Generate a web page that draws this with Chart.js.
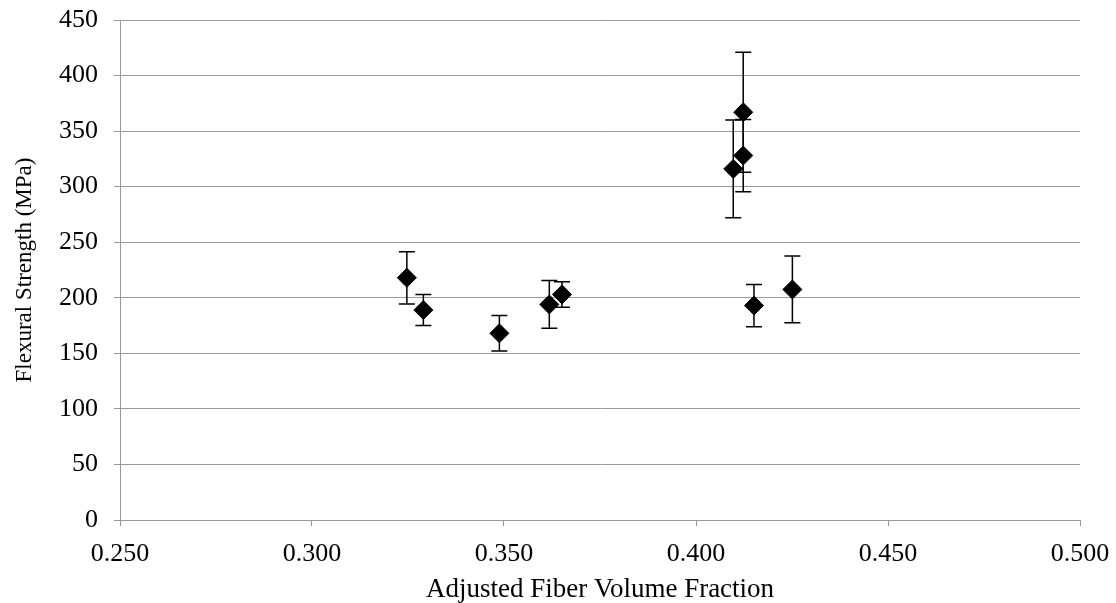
<!DOCTYPE html>
<html>
<head>
<meta charset="utf-8">
<script src="https://cdn.jsdelivr.net/npm/chart.js@4/dist/chart.umd.min.js"></script>
<style>
  html, body { margin: 0; padding: 0; background: #fff; }
  #wrap { width: 1116px; height: 603px; }
</style>
</head>
<body>
<div id="wrap"><canvas id="chart" width="1116" height="603"></canvas></div>
<script>
// fiber volume fraction (x) and flexural strength (y) with +/- error
const fiberFraction = [0.3247, 0.3290, 0.3488, 0.3618, 0.3651, 0.4097, 0.4123, 0.4123, 0.4151, 0.4251];
const strength = [218, 189, 168, 194, 203, 316, 328, 367, 193, 207.5];
const strengthErr = [23.5, 14, 16, 21.5, 11.5, 44, 32.5, 54, 19, 30];

const xTicks = [0.25, 0.30, 0.35, 0.40, 0.45, 0.50];
const yTicks = [0, 50, 100, 150, 200, 250, 300, 350, 400, 450];

const points = fiberFraction.map((x, i) => ({ x: x, y: strength[i] }));

// draws the error bars through the chart scales, under the markers
const errorBars = {
    id: 'errorBars',
    beforeDatasetsDraw(chart) {
        const ctx = chart.ctx;
        const xs = chart.scales.x;
        const ys = chart.scales.y;
        ctx.save();
        ctx.strokeStyle = '#000';
        ctx.lineWidth = 1.5;
        points.forEach((p, i) => {
            const px = xs.getPixelForValue(p.x);
            const top = ys.getPixelForValue(p.y + strengthErr[i]);
            const bot = ys.getPixelForValue(p.y - strengthErr[i]);
            ctx.beginPath();
            ctx.moveTo(px, top);
            ctx.lineTo(px, bot);
            ctx.moveTo(px - 8, top);
            ctx.lineTo(px + 8, top);
            ctx.moveTo(px - 8, bot);
            ctx.lineTo(px + 8, bot);
            ctx.stroke();
        });
        ctx.restore();
    }
};

const serif = 'Liberation Serif, Times New Roman, serif';

new Chart(document.getElementById('chart'), {
    type: 'scatter',
    data: {
        datasets: [{
            label: 'Flexural Strength',
            data: points,
            pointStyle: 'rectRot',
            pointRadius: 9.5,
            pointHoverRadius: 9.5,
            backgroundColor: '#000',
            borderColor: '#000',
            borderWidth: 1
        }]
    },
    options: {
        responsive: false,
        animation: false,
        layout: { padding: { top: 20, right: 36, left: 0, bottom: 0 } },
        plugins: {
            legend: { display: false },
            tooltip: { enabled: false }
        },
        scales: {
            x: {
                type: 'linear',
                min: 0.25,
                max: 0.5,
                afterBuildTicks: (axis) => { axis.ticks = xTicks.map(v => ({ value: v })); },
                afterFit: (axis) => {
                    axis.height = 83;
                    axis.paddingLeft = 0;
                    axis.paddingRight = 0;
                },
                grid: { drawOnChartArea: false, drawTicks: true, tickLength: 6, color: '#9a9a9a' },
                border: { display: true, color: '#9a9a9a', width: 1 },
                ticks: {
                    color: '#000',
                    padding: 13,
                    font: { family: serif, size: 26 },
                    callback: (v) => v.toFixed(3)
                },
                title: {
                    display: true,
                    text: 'Adjusted Fiber Volume Fraction',
                    color: '#000',
                    font: { family: serif, size: 27, lineHeight: 1 },
                    padding: { top: 0, bottom: 0 }
                }
            },
            y: {
                min: 0,
                max: 450,
                afterBuildTicks: (axis) => { axis.ticks = yTicks.map(v => ({ value: v })); },
                afterFit: (axis) => {
                    axis.width = 120;
                    axis.paddingTop = 0;
                    axis.paddingBottom = 0;
                },
                grid: { color: '#9a9a9a', drawTicks: true, tickLength: 6, lineWidth: 1 },
                border: { display: true, color: '#9a9a9a', width: 1 },
                ticks: {
                    color: '#000',
                    padding: 16,
                    font: { family: serif, size: 26 }
                },
                title: {
                    display: true,
                    text: 'Flexural Strength (MPa)',
                    color: '#000',
                    font: { family: serif, size: 23 },
                    padding: { top: 11, bottom: 0 }
                }
            }
        }
    },
    plugins: [errorBars]
});
</script>
</body>
</html>
